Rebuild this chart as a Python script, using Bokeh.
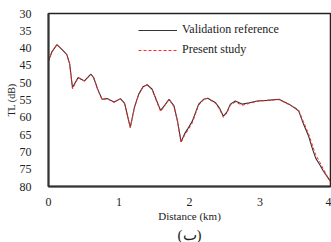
from bokeh.plotting import figure
from bokeh.models import Range1d, FixedTicker, Legend, LegendItem, Title
from bokeh.embed import file_html
from bokeh.resources import INLINE

x_km = [0.00, 0.05, 0.12, 0.21, 0.26, 0.30, 0.34, 0.42, 0.51, 0.60, 0.64, 0.70, 0.76, 0.83,
        0.93, 1.02, 1.08, 1.16, 1.22, 1.28, 1.34, 1.40, 1.47, 1.53, 1.59, 1.65, 1.71, 1.78,
        1.83, 1.88, 1.93, 1.97, 2.04, 2.13, 2.20, 2.26, 2.37, 2.43, 2.48, 2.53, 2.58, 2.65,
        2.75, 2.85, 2.96, 3.10, 3.27, 3.41, 3.50, 3.55, 3.62, 3.69, 3.75, 3.79, 3.85, 3.90, 4.00]

tl_reference = [43.7, 41.0, 39.0, 40.8, 41.9, 44.5, 51.4, 48.5, 49.5, 47.5, 48.5, 52.0, 54.8, 54.6,
                55.6, 54.6, 56.0, 62.9, 57.0, 53.3, 51.2, 50.6, 51.9, 55.0, 58.0, 56.5, 54.8, 56.7,
                61.0, 67.1, 64.8, 63.5, 61.1, 56.2, 54.8, 54.5, 55.8, 57.5, 59.7, 58.5, 56.2, 55.3,
                56.2, 55.8, 55.3, 55.1, 54.8, 56.2, 57.4, 58.2, 62.1, 65.5, 69.5, 71.8, 73.8, 75.6, 78.5]

tl_present = [43.7, 41.0, 39.0, 40.8, 41.9, 44.6, 51.8, 48.6, 49.5, 47.6, 48.6, 52.1, 54.9, 54.6,
              55.7, 54.6, 56.1, 63.0, 57.2, 53.4, 51.2, 50.6, 51.9, 55.2, 58.3, 56.6, 54.8, 56.9,
              61.3, 67.3, 65.2, 64.0, 61.6, 56.5, 54.9, 54.5, 56.0, 57.8, 60.0, 58.8, 56.5, 55.6,
              56.5, 56.0, 55.4, 55.1, 54.9, 56.3, 57.3, 58.0, 61.5, 64.8, 68.5, 70.8, 73.0, 75.0, 78.8]

x_ticks = [0, 1, 2, 3, 4]
y_ticks = [30, 35, 40, 45, 50, 55, 60, 65, 70, 75, 80]

legend_labels = ["Validation reference", "Present study"]
x_title = "Distance (km)"
y_title = "TL (dB)"
panel_label = "(ب)"

FONT = "Liberation Serif"

p = figure(width=331, height=242, output_backend="svg", toolbar_location=None,
           x_range=Range1d(0, 4), y_range=Range1d(80, 30),
           min_border_left=48, min_border_right=1, min_border_top=13, min_border_bottom=20)

p.xgrid.visible = False
p.ygrid.visible = False
p.outline_line_color = "#222222"
p.outline_line_width = 1.5
p.background_fill_color = "white"
p.border_fill_color = "white"

r1 = p.line(x_km, tl_reference, line_color="#333333", line_width=1.1)
r2 = p.line(x_km, tl_present, line_color="#ff2a2a", line_width=1.0, line_dash="3 2")

for ax in (p.xaxis[0], p.yaxis[0]):
    ax.axis_line_width = 2
    ax.axis_line_color = "#333333"
    ax.major_tick_line_color = None
    ax.minor_tick_line_color = None
    ax.major_label_text_font = FONT
    ax.major_label_text_font_size = "12px"
    ax.major_label_text_color = "#222222"
    ax.axis_label_text_font = FONT
    ax.axis_label_text_font_style = "normal"
    ax.axis_label_text_font_size = "11px"
    ax.axis_label_text_color = "#222222"

p.xaxis[0].ticker = FixedTicker(ticks=x_ticks)
p.yaxis[0].ticker = FixedTicker(ticks=y_ticks)
p.xaxis[0].major_label_standoff = 5
p.yaxis[0].major_label_standoff = 11
p.xaxis[0].axis_label = x_title
p.xaxis[0].axis_label_standoff = 1
p.yaxis[0].axis_label = y_title
p.yaxis[0].axis_label_standoff = 0
p.yaxis[0].axis_label_text_font_size = "10px"

legend = Legend(items=[LegendItem(label=legend_labels[0], renderers=[r1]),
                       LegendItem(label=legend_labels[1], renderers=[r2])],
                location=(90, 129), orientation="vertical",
                glyph_width=39, glyph_height=14, label_height=14, label_standoff=5,
                spacing=5, padding=0, margin=0,
                label_text_font=FONT, label_text_font_size="12px", label_text_color="#222222",
                border_line_alpha=0, background_fill_alpha=0)
p.add_layout(legend)

caption = Title(text=panel_label, align="center", text_font=FONT, text_font_size="15px",
                text_font_style="normal", text_color="#222222", standoff=0, offset=0)
p.add_layout(caption, "below")

open("out.html", "w").write(file_html(p, INLINE))
